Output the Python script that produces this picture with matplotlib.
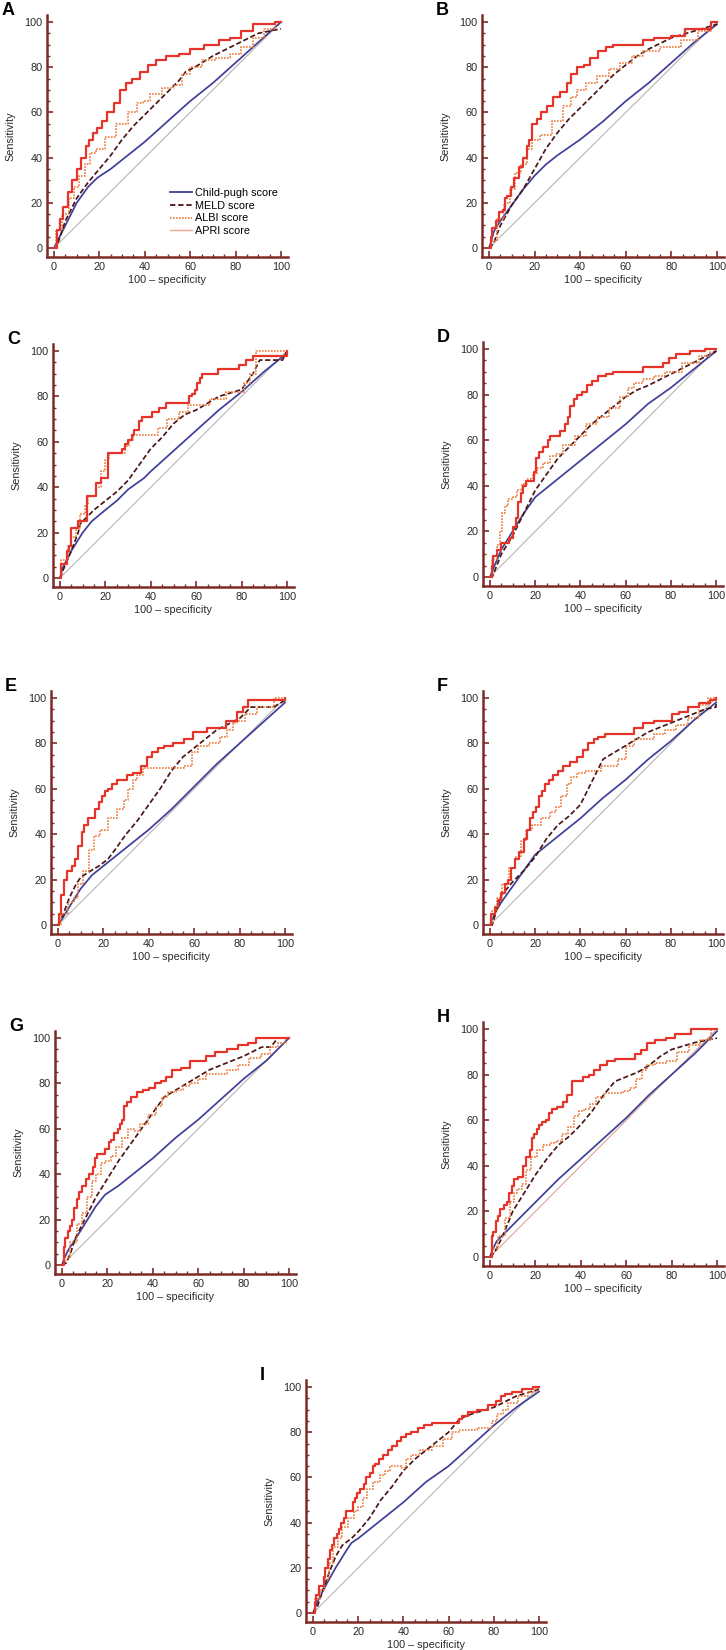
import matplotlib
matplotlib.use("Agg")
import matplotlib.pyplot as plt
from matplotlib.lines import Line2D
from matplotlib.ticker import MultipleLocator

plt.rcParams['font.family'] = ['Liberation Sans', 'DejaVu Sans']

# ---------------- data (100 - specificity, sensitivity) ----------------
A_red = [(0,0),(1,0),(2,8),(3,13),(5,18),(7,25),(9,30),(11,35),(13,40),(15,45),(16,48),(18,51),(20,53),(22,56),(25,60),(28,64),(30,70),(33,73),(36,75),(40,78),(43,81),(47,83),(52,85),(58,86),(62,88),(70,90),(75,92),(80,93),(85,96),(90,99),(95,99),(100,100)]
A_child = [(0,0),(2,4),(5,10),(10,20),(15,27),(19,31),(25,35),(30,39),(40,47),(50,56),(60,65),(70,73),(80,82),(90,91),(100,100)]
A_meld = [(0,0),(1,0),(3,6),(5,12),(10,22),(15,29),(20,35),(25,41),(30,48),(35,54),(40,59),(45,64),(50,69),(55,74),(58,78),(62,80),(70,85),(80,90),(90,95),(100,97)]
A_albi = [(0,0),(2,8),(5,15),(8,22),(10,27),(12,32),(15,37),(17,42),(20,44),(25,49),(30,55),(35,60),(38,64),(40,65),(45,68),(50,71),(55,72),(58,77),(62,80),(68,83),(75,84),(80,86),(85,89),(90,93),(95,97),(100,100)]

B_red = [(0,0),(1,0),(1,5),(2,9),(4,12),(5,16),(7,17),(7,22),(9,23),(10,27),(12,31),(14,36),(16,40),(17,45),(18,48),(20,55),(22,57),(24,60),(27,63),(29,67),(33,69),(35,73),(37,77),(40,80),(43,81),(46,84),(50,87),(53,89),(56,90),(65,90),(70,92),(75,93),(85,94),(87,97),(95,97),(100,100)]
B_child = [(0,0),(1,3),(2,7),(3,9),(5,12),(10,19),(15,26),(20,32),(25,37),(30,41),(40,48),(50,56),(60,65),(70,73),(80,82),(90,91),(100,99)]
B_meld = [(0,0),(2,2),(5,10),(10,19),(15,26),(20,35),(25,44),(30,51),(35,57),(40,62),(45,67),(50,72),(55,77),(60,81),(65,85),(70,88),(80,93),(90,96),(100,99)]
B_albi = [(0,0),(2,3),(5,13),(8,20),(10,26),(13,33),(15,37),(18,44),(20,48),(25,50),(30,56),(35,63),(37,67),(40,70),(45,73),(50,76),(55,79),(60,82),(65,85),(70,87),(80,89),(88,92),(95,96),(100,100)]

C_red = [(0,0),(1,6),(3,6),(3,12),(4,12),(4,14),(5,14),(5,22),(8,22),(8,25),(11,25),(13,36),(16,36),(16,42),(18,42),(18,44),(20,44),(22,55),(27,55),(28,57),(29,59),(31,61),(32,63),(33,65),(35,65),(35,69),(37,71),(40,71),(41,73),(43,73),(44,75),(46,75),(47,77),(57,77),(57,80),(59,81),(60,83),(61,86),(62,88),(63,90),(69,90),(70,92),(79,92),(79,94),(82,94),(82,96),(85,96),(85,98),(100,98),(100,100)]
C_child = [(0,0),(1,4),(5,12),(10,20),(14,25),(20,30),(25,34),(30,39),(37,44),(40,47),(50,56),(60,65),(70,74),(80,82),(90,91),(100,99)]
C_meld = [(0,0),(2,5),(5,12),(8,20),(9,24),(12,27),(15,30),(20,34),(25,38),(30,43),(35,50),(40,57),(45,62),(50,68),(55,72),(60,74),(65,77),(70,80),(80,83),(85,90),(88,96),(98,96),(100,100)]
C_albi = [(0,0),(1,8),(3,8),(4,14),(6,18),(8,22),(10,28),(12,32),(13,36),(15,36),(17,40),(19,47),(21,52),(22,55),(27,55),(30,58),(31,61),(33,63),(42,63),(44,66),(50,70),(55,73),(58,76),(66,76),(66,79),(80,82),(82,86),(85,90),(88,100),(100,100)]

D_red = [(0,0),(1,0),(1,5),(2,9),(4,12),(6,15),(8,15),(9,17),(11,22),(12,26),(13,33),(14,37),(15,40),(17,42),(19,42),(20,46),(21,52),(22,55),(25,57),(26,60),(27,62),(30,62),(32,64),(34,67),(35,70),(36,75),(38,78),(39,80),(42,81),(44,84),(46,86),(50,88),(53,89),(56,90),(65,90),(70,92),(75,92),(78,94),(80,96),(85,98),(92,99),(95,99),(95,100),(100,100)]
D_child = [(0,0),(2,5),(5,12),(10,20),(15,28),(20,35),(25,39),(30,43),(40,51),(50,59),(60,67),(70,76),(80,83),(90,91),(100,99)]
D_meld = [(0,0),(1,0),(3,5),(5,10),(10,18),(15,28),(20,38),(25,45),(30,52),(35,57),(40,62),(45,67),(50,71),(55,75),(60,79),(65,82),(70,84),(80,89),(90,94),(100,99)]
D_albi = [(0,0),(2,8),(4,14),(5,20),(6,28),(7,31),(9,34),(11,35),(13,38),(15,41),(18,43),(20,45),(22,48),(25,50),(28,53),(30,54),(35,58),(40,62),(45,67),(50,70),(55,74),(60,79),(62,83),(65,85),(70,87),(75,88),(80,90),(90,94),(95,97),(100,100)]

E_red = [(0,0),(1,5),(2,13),(3,20),(5,24),(7,26),(8,29),(10,35),(11,41),(12,44),(14,47),(16,47),(17,51),(19,54),(20,57),(21,59),(23,60),(25,62),(27,64),(30,64),(31,66),(35,67),(38,70),(40,74),(43,76),(45,78),(48,79),(53,80),(58,82),(61,85),(70,87),(78,90),(80,94),(83,96),(84,99),(100,99),(100,100)]
E_child = [(0,0),(2,3),(5,8),(10,16),(15,22),(20,26),(25,30),(30,34),(40,42),(50,51),(60,61),(70,71),(80,80),(90,89),(100,98)]
E_meld = [(0,0),(2,4),(5,12),(8,18),(10,21),(13,23),(18,26),(22,29),(25,33),(30,40),(35,46),(40,53),(45,60),(50,68),(55,74),(60,78),(65,82),(70,86),(80,91),(85,96),(95,96),(100,99)]
E_albi = [(0,0),(3,5),(6,10),(8,12),(10,18),(12,24),(15,33),(17,39),(20,42),(24,47),(28,51),(30,55),(32,60),(34,64),(36,66),(39,69),(48,69),(53,69),(58,70),(60,76),(63,79),(70,80),(73,83),(76,86),(78,89),(80,90),(85,93),(90,96),(100,100)]

F_red = [(0,0),(1,5),(3,8),(4,11),(6,14),(7,18),(9,20),(10,25),(12,29),(14,32),(16,38),(17,42),(18,47),(20,50),(21,52),(22,57),(24,59),(25,62),(27,64),(29,66),(31,68),(34,70),(37,72),(40,74),(42,77),(45,80),(47,82),(49,83),(53,84),(62,84),(65,87),(70,89),(75,90),(79,90),(82,93),(85,94),(90,96),(95,98),(100,99),(100,100)]
F_child = [(0,0),(2,5),(5,10),(10,17),(15,24),(20,31),(25,35),(30,39),(40,47),(50,56),(60,64),(70,73),(80,81),(90,90),(100,98)]
F_meld = [(0,0),(1,0),(3,7),(5,13),(10,19),(15,24),(20,30),(25,38),(30,44),(35,48),(40,53),(45,63),(50,73),(55,76),(60,79),(65,82),(70,85),(80,89),(90,93),(95,95),(100,96),(100,99)]
F_albi = [(0,0),(2,6),(4,12),(7,18),(10,25),(12,30),(15,37),(17,42),(20,44),(25,47),(28,50),(30,52),(33,57),(35,62),(37,65),(40,67),(45,68),(48,68),(50,70),(55,70),(58,73),(62,79),(65,82),(70,82),(75,84),(80,86),(85,88),(90,91),(95,97),(98,100),(100,100)]

G_red = [(0,0),(1,0),(1,8),(2,12),(3,15),(4,17),(5,20),(6,25),(7,29),(8,32),(10,35),(11,38),(13,40),(14,43),(15,47),(16,49),(18,49),(20,51),(21,54),(22,55),(24,58),(25,60),(26,62),(27,64),(28,70),(29,72),(32,74),(34,76),(37,77),(40,78),(42,80),(45,81),(47,83),(50,86),(55,87),(58,90),(62,90),(65,92),(70,94),(75,95),(80,97),(84,98),(87,100),(100,100)]
G_child = [(0,0),(1,3),(3,7),(5,10),(10,18),(15,26),(19,31),(25,35),(30,39),(40,47),(50,56),(60,64),(70,73),(80,82),(90,90),(100,100)]
G_meld = [(0,0),(2,1),(4,6),(6,12),(10,20),(15,30),(20,38),(25,46),(30,53),(35,60),(40,67),(45,74),(50,77),(55,80),(60,83),(65,86),(70,88),(80,92),(88,96),(92,96),(95,100),(100,100)]
G_albi = [(0,0),(2,3),(5,10),(8,18),(10,23),(12,30),(14,37),(16,40),(18,45),(20,46),(23,48),(25,52),(28,56),(30,60),(33,59),(36,62),(40,66),(43,70),(45,74),(48,76),(52,77),(55,79),(58,80),(62,82),(65,84),(70,84),(75,86),(80,88),(85,91),(90,93),(93,96),(97,98),(100,100)]

H_red = [(0,0),(1,0),(1,9),(2,11),(3,16),(4,18),(5,21),(7,23),(8,24),(9,28),(10,31),(11,34),(14,35),(15,40),(17,44),(18,47),(19,52),(20,54),(21,56),(22,58),(24,59),(25,60),(27,63),(28,65),(31,66),(33,68),(35,71),(37,77),(40,77),(42,79),(45,80),(47,82),(50,84),(53,86),(57,87),(63,87),(65,89),(68,91),(70,94),(75,95),(80,96),(83,98),(87,98),(90,100),(100,100)]
H_child = [(0,0),(1,3),(3,7),(5,9),(10,14),(15,19),(20,24),(25,29),(30,34),(40,43),(50,52),(60,61),(70,71),(80,80),(90,89),(100,99)]
H_meld = [(0,0),(2,2),(5,8),(8,15),(10,20),(15,28),(20,36),(25,43),(30,49),(35,53),(40,58),(45,64),(50,71),(55,77),(60,79),(65,81),(70,84),(75,88),(80,91),(90,94),(100,96)]
H_albi = [(0,0),(2,4),(5,9),(8,17),(10,24),(11,28),(13,30),(15,32),(17,38),(19,44),(22,47),(25,49),(28,50),(30,51),(33,54),(36,57),(38,62),(40,64),(43,65),(45,67),(48,70),(52,72),(57,72),(60,73),(63,74),(66,78),(68,82),(70,84),(75,85),(80,86),(85,90),(90,93),(95,95),(100,100)]

I_red = [(0,0),(1,0),(1,5),(2,8),(3,12),(5,12),(5,16),(6,20),(7,24),(8,28),(9,30),(10,33),(11,35),(12,37),(13,40),(14,42),(15,45),(17,45),(18,49),(19,51),(20,53),(22,55),(23,57),(24,60),(26,62),(27,65),(28,66),(30,68),(32,70),(34,72),(36,74),(38,76),(40,78),(42,79),(45,80),(48,82),(50,83),(55,84),(64,84),(65,86),(67,87),(70,89),(75,90),(80,92),(82,94),(84,96),(86,97),(90,98),(95,99),(100,100)]
I_child = [(0,0),(2,5),(5,11),(10,20),(15,28),(17,31),(20,33),(25,37),(30,41),(40,49),(50,58),(60,65),(70,74),(80,83),(90,91),(100,98)]
I_meld = [(0,0),(2,3),(5,12),(8,20),(10,25),(13,30),(17,33),(20,36),(25,42),(30,50),(35,56),(40,63),(45,68),(50,72),(55,76),(60,80),(65,86),(70,88),(80,91),(90,96),(100,99)]
I_albi = [(0,0),(2,6),(4,10),(6,15),(8,22),(10,29),(12,33),(14,38),(17,42),(19,45),(21,47),(23,51),(25,55),(28,58),(31,61),(33,63),(35,65),(38,65),(40,64),(42,68),(45,70),(50,72),(55,74),(60,77),(63,80),(66,81),(70,81),(75,82),(78,82),(80,85),(83,88),(85,90),(88,93),(93,96),(97,98),(100,100)]

DIAG = [(0,0),(100,100)]

labels = ["Child-pugh score", "MELD score", "ALBI score", "APRI score"]
ticks = [0, 20, 40, 60, 80, 100]

# panel letter, curves, pixel geometry (x0px, x100px, y100px, y0px), diag colour
PANELS = [
    ("A", A_red, A_child, A_meld, A_albi, (54, 281, 22, 248), "#b9b4b4"),
    ("B", B_red, B_child, B_meld, B_albi, (489, 717, 22, 248), "#b9b4b4"),
    ("C", C_red, C_child, C_meld, C_albi, (60, 287, 351, 578), "#b9b4b4"),
    ("D", D_red, D_child, D_meld, D_albi, (490, 716, 349, 577), "#b9b4b4"),
    ("E", E_red, E_child, E_meld, E_albi, (58, 285, 698, 925), "#b9b4b4"),
    ("F", F_red, F_child, F_meld, F_albi, (490, 716, 698, 925), "#b9b4b4"),
    ("G", G_red, G_child, G_meld, G_albi, (62, 289, 1038, 1265), "#b9b4b4"),
    ("H", H_red, H_child, H_meld, H_albi, (490, 717, 1029, 1257), "#dca392"),
    ("I", I_red, I_child, I_meld, I_albi, (313, 539, 1387, 1613), "#b9b4b4"),
]

W, H = 726, 1650
fig = plt.figure(figsize=(W / 100, H / 100), dpi=100)

SPINE = "#7e2b27"
C_CHILD = "#3f3f98"
C_MELD = "#4d1616"
C_ALBI = "#f07b3c"
C_RED = "#e5352b"
C_APRI = "#f2a58e"
XLO, XHI, YLO, YHI = -3, 103, -4, 103

def xy(pts):
    return [p[0] for p in pts], [p[1] for p in pts]

for letter, red, child, meld, albi, (x0, x100, y100, y0), dcol in PANELS:
    sx = (x100 - x0) / 100.0
    sy = (y0 - y100) / 100.0
    left = x0 + XLO * sx
    right = x0 + XHI * sx
    top = y0 - YHI * sy
    bottom = y0 - YLO * sy
    ax = fig.add_axes([left / W, 1 - bottom / H, (right - left) / W, (bottom - top) / H])
    ax.set_xlim(XLO, XHI)
    ax.set_ylim(YLO, YHI)

    ax.plot(*xy(DIAG), color=dcol, lw=0.8, zorder=1)
    ax.plot(*xy(child), color=C_CHILD, lw=1.25, zorder=3)
    ax.plot(*xy(meld), color=C_MELD, lw=1.25, ls=(0, (3, 1.5)), zorder=4)
    ax.plot(*xy(albi), color=C_ALBI, lw=1.2, ls=(0, (1, 0.8)), drawstyle='steps-mid', zorder=5)
    ax.plot(*xy(red), color=C_RED, lw=1.6, drawstyle='steps-mid', zorder=6)

    for s in ("top", "right"):
        ax.spines[s].set_visible(False)
    for s in ("left", "bottom"):
        ax.spines[s].set_color(SPINE)
        ax.spines[s].set_linewidth(1.8)
    ax.xaxis.set_minor_locator(MultipleLocator(5))
    ax.yaxis.set_minor_locator(MultipleLocator(5))
    ax.set_xticks(ticks)
    ax.set_yticks(ticks)
    ax.tick_params(which='major', direction='in', length=4.5, width=1.2, color=SPINE,
                   labelsize=7.8, labelcolor="#2a2a2a", pad=3.5)
    ax.tick_params(which='minor', direction='in', length=2.5, width=1.0, color=SPINE)
    ax.set_xlabel("100 \u2013 specificity", fontsize=7.8, color="#2a2a2a", labelpad=2)
    ax.set_ylabel("Sensitivity", fontsize=7.8, color="#2a2a2a", labelpad=6)

    fig.text((left - 46) / W, 1 - (top - 13) / H, letter, fontsize=13, fontweight='bold',
             ha='left', va='top')

    if letter == "A":
        handles = [
            Line2D([], [], color=C_CHILD, lw=1.3),
            Line2D([], [], color=C_MELD, lw=1.3, ls=(0, (3, 1.5))),
            Line2D([], [], color=C_ALBI, lw=1.2, ls=(0, (1, 0.8))),
            Line2D([], [], color=C_APRI, lw=1.0),
        ]
        ax.legend(handles, labels, loc='upper left', frameon=False, fontsize=7.8,
                  bbox_to_anchor=(170 / W, 1 - 188 / H), bbox_transform=fig.transFigure,
                  borderpad=0, borderaxespad=0, handlelength=2.0, handletextpad=0.35,
                  labelspacing=0.25)

fig.savefig("out.png", dpi=100)
